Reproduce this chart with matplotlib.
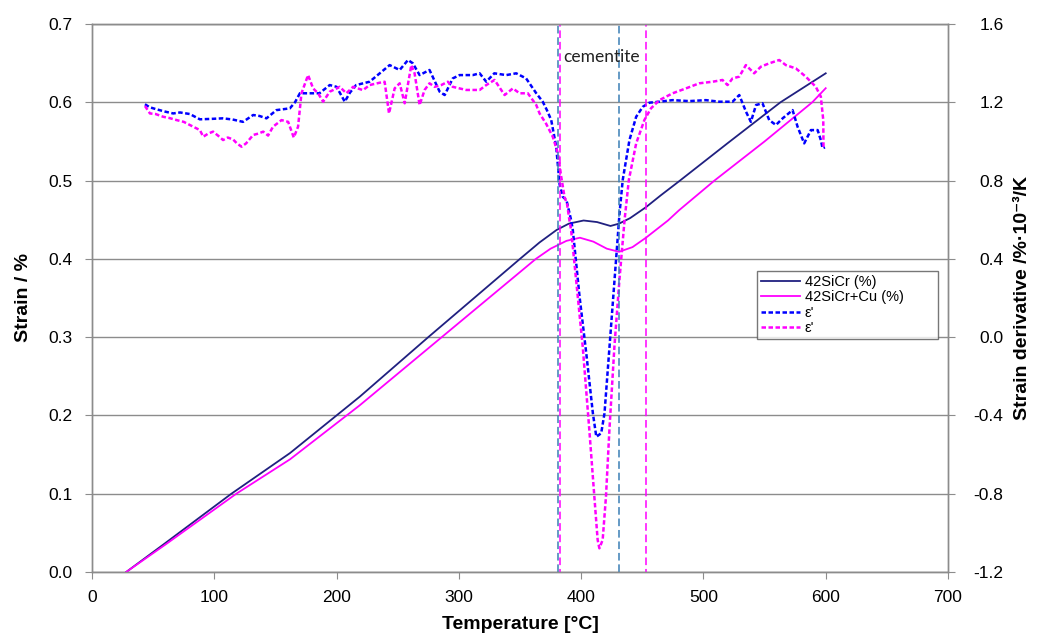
import matplotlib
matplotlib.use("Agg")
import matplotlib.pyplot as plt
from matplotlib.lines import Line2D

plt.rcParams['font.family'] = ['Liberation Sans', 'DejaVu Sans']

# Strain curves (left axis)
t_sicr = [28, 60, 114, 162, 219, 275, 350, 366, 380, 390, 402, 413, 424, 431,
          440, 453, 465, 480, 520, 563, 600]
strain_sicr = [0.0, 0.037, 0.100, 0.152, 0.224, 0.300, 0.400, 0.421, 0.437, 0.445,
               0.449, 0.447, 0.442, 0.445, 0.452, 0.466, 0.481, 0.499, 0.548, 0.600, 0.637]

t_sicr_cu = [28, 60, 118, 162, 219, 286, 363, 375, 388, 399, 410, 421, 431, 442,
             453, 471, 480, 509, 550, 589, 600]
strain_sicr_cu = [0.0, 0.035, 0.100, 0.144, 0.213, 0.300, 0.400, 0.413, 0.423, 0.427,
                  0.422, 0.413, 0.409, 0.415, 0.427, 0.449, 0.462, 0.500, 0.550, 0.600, 0.618]

# Strain derivative curves (right axis)
t_deriv_sicr = [43.3, 47, 52.8, 60, 66.4, 72, 80, 88.2, 97, 107, 115, 123.5, 131.8, 137,
                142.7, 150.8, 161.8, 166, 170, 178, 186, 194.4, 200, 206.7, 211, 216, 227,
                235.3, 243.4, 251.6, 258.4, 262.4, 267.9, 276, 284.3, 288.4, 295, 300.6,
                311.4, 317, 322.4, 329, 338.7, 346.9, 355, 363.3, 368.6, 372, 375.5, 379.6,
                382.4, 385, 388, 391.8, 393.2, 398.7, 404.2, 409.6, 412.4, 416.4, 419.1,
                423.2, 427.3, 431.4, 434, 439.5, 445, 450.4, 455.9, 464, 474.8, 488.4, 502,
                513, 523.8, 529.3, 534.8, 538.8, 543, 548.3, 553.8, 559.3, 564.8, 572.9,
                577, 582.4, 587.9, 593.4, 596, 597.4, 599.4]
deriv_sicr = [1.190, 1.175, 1.164, 1.152, 1.143, 1.148, 1.140, 1.113, 1.115, 1.118, 1.112,
              1.100, 1.135, 1.130, 1.118, 1.160, 1.169, 1.200, 1.246, 1.246, 1.246, 1.288,
              1.279, 1.203, 1.250, 1.288, 1.305, 1.348, 1.390, 1.365, 1.416, 1.399, 1.339,
              1.365, 1.254, 1.237, 1.322, 1.339, 1.339, 1.348, 1.305, 1.348, 1.339, 1.348,
              1.322, 1.246, 1.203, 1.160, 1.110, 0.973, 0.780, 0.717, 0.700, 0.598, 0.547,
              0.207, -0.083, -0.389, -0.509, -0.491, -0.389, -0.049, 0.292, 0.633, 0.803,
              1.007, 1.126, 1.177, 1.198, 1.203, 1.211, 1.206, 1.211, 1.203, 1.203, 1.237,
              1.152, 1.100, 1.186, 1.195, 1.109, 1.084, 1.118, 1.160, 1.075, 0.990, 1.058,
              1.058, 1.007, 0.965, 0.970]

t_deriv_sicr_cu = [43.3, 47.4, 52, 58.2, 63, 69.2, 75, 80, 88.2, 91, 95, 99, 103, 107.2,
                   111, 115.4, 118.5, 122.3, 126, 131.8, 136, 140, 144, 148, 155, 160.4,
                   165, 168.5, 171.3, 176.7, 180.8, 185, 189, 194.4, 202.6, 208, 213.5,
                   221.6, 227, 235.3, 239.3, 242.9, 247.5, 251.6, 255.7, 261.1, 263.8,
                   267.9, 272, 276, 280.2, 285.6, 291, 295, 306, 317, 322.4, 329.2, 337.4,
                   344.2, 349.6, 356.4, 363.3, 366, 371.4, 376.8, 381, 383.7, 386.4, 388.5,
                   390.4, 391.8, 395.9, 401.3, 406.7, 410.8, 413.5, 414.9, 417.6, 420.3,
                   423.1, 427.2, 431.3, 435.5, 439, 445, 451.7, 457.1, 464, 474.8, 485.7,
                   496.6, 507.5, 515.6, 519.7, 523.8, 529.3, 534.7, 541.5, 547, 553.8, 562,
                   567.4, 575.6, 583.7, 591.9, 596, 598, 598.2]
deriv_sicr_cu = [1.181, 1.143, 1.140, 1.126, 1.120, 1.109, 1.100, 1.084, 1.058, 1.024,
                 1.040, 1.050, 1.030, 1.007, 1.020, 1.010, 0.990, 0.973, 0.990, 1.033,
                 1.040, 1.050, 1.030, 1.075, 1.109, 1.100, 1.020, 1.075, 1.246, 1.339,
                 1.271, 1.245, 1.203, 1.254, 1.279, 1.246, 1.279, 1.262, 1.288, 1.300,
                 1.305, 1.143, 1.271, 1.297, 1.195, 1.390, 1.348, 1.186, 1.263, 1.297,
                 1.279, 1.288, 1.305, 1.279, 1.263, 1.263, 1.288, 1.314, 1.237, 1.271,
                 1.246, 1.246, 1.186, 1.143, 1.090, 1.024, 0.939, 0.820, 0.717, 0.680,
                 0.598, 0.547, 0.292, -0.049, -0.475, -0.815, -1.036, -1.079, -1.036,
                 -0.815, -0.475, -0.049, 0.292, 0.598, 0.803, 0.990, 1.109, 1.169, 1.211,
                 1.246, 1.271, 1.297, 1.305, 1.314, 1.288, 1.322, 1.331, 1.390, 1.348,
                 1.382, 1.399, 1.416, 1.390, 1.373, 1.331, 1.279, 1.229, 1.109, 0.965]

# Transformation boundaries (°C)
bounds_sicr = [381, 431]
bounds_sicr_cu = [383, 453]

x_ticks = [0, 100, 200, 300, 400, 500, 600, 700]
left_ticks = [0.0, 0.1, 0.2, 0.3, 0.4, 0.5, 0.6, 0.7]
right_ticks = [-1.2, -0.8, -0.4, 0.0, 0.4, 0.8, 1.2, 1.6]

NAVY = '#202080'
MAGENTA = '#ff00ff'
BLUE = '#0000ff'
STEEL = '#3a7fb5'
GRID = '#8c8c8c'

fig = plt.figure(figsize=(10.43, 6.41), dpi=100)
ax = fig.add_axes([92 / 1043, 69 / 641, 856 / 1043, 548 / 641])
ax2 = ax.twinx()

ax.plot(t_sicr, strain_sicr, color=NAVY, lw=1.3, zorder=3)
ax.plot(t_sicr_cu, strain_sicr_cu, color=MAGENTA, lw=1.3, zorder=3)

dash = (0, (1.8, 1.0))
ax2.plot(t_deriv_sicr, deriv_sicr, color=BLUE, lw=1.8, linestyle=dash)
ax2.plot(t_deriv_sicr_cu, deriv_sicr_cu, color=MAGENTA, lw=1.8, linestyle=dash)

for t in bounds_sicr:
    ax2.axvline(t, color=STEEL, lw=1.1, linestyle=(0, (5, 2.5)))
for t in bounds_sicr_cu:
    ax2.axvline(t, color=MAGENTA, lw=1.1, linestyle=(3, (5, 2.5)))

ax2.text(385, 1.43, 'cementite', fontsize=12.5, va='center', ha='left',
         family=['Lato', 'DejaVu Sans'], color='#222222')

ax.set_xlim(0, 700)
ax.set_ylim(0, 0.7)
ax2.set_ylim(-1.2, 1.6)
ax.set_xticks(x_ticks)
ax.set_yticks(left_ticks)
ax2.set_yticks(right_ticks)
ax.set_xticklabels([str(v) for v in x_ticks])
ax.set_yticklabels([f'{v:.1f}' for v in left_ticks])
ax2.set_yticklabels([f'{v:.1f}' for v in right_ticks])

ax.yaxis.grid(True, color=GRID, lw=1.0)
ax.set_axisbelow(True)

for a in (ax, ax2):
    for s in a.spines.values():
        s.set_color(GRID)
        s.set_linewidth(1.0)

ax.tick_params(axis='both', labelsize=12.5, color=GRID, length=5, direction='out')
ax.tick_params(axis='y', pad=9)
ax.tick_params(axis='x', pad=8)
ax2.tick_params(axis='y', labelsize=12.5, color=GRID, length=5, direction='out', pad=35)
for lab in ax2.get_yticklabels():
    lab.set_horizontalalignment('right')

ax.set_xlabel('Temperature [°C]', fontsize=14, fontweight='bold', labelpad=8)
ax.set_ylabel('Strain / %', fontsize=14, fontweight='bold', labelpad=12)
ax2.set_ylabel('Strain derivative /%·10⁻³/K', fontsize=14, fontweight='bold')
ax2.yaxis.set_label_coords(1.077, 0.5)

handles = [
    Line2D([], [], color=NAVY, lw=1.3),
    Line2D([], [], color=MAGENTA, lw=1.3),
    Line2D([], [], color=BLUE, lw=1.8, linestyle=dash),
    Line2D([], [], color=MAGENTA, lw=1.8, linestyle=dash),
]
labels = ['42SiCr (%)', '42SiCr+Cu (%)', "ε'", "ε'"]
leg = ax2.legend(handles, labels, loc='upper left',
                 bbox_to_anchor=(0.777, 0.436, 0.211, 0.113), mode='expand',
                 fontsize=10.5, frameon=True, fancybox=False, borderpad=0.25,
                 handlelength=2.7, handletextpad=0.3, labelspacing=0.1,
                 borderaxespad=0)
leg.get_frame().set_edgecolor('#555555')
leg.get_frame().set_linewidth(1.0)

fig.savefig('out.png', dpi=100)
